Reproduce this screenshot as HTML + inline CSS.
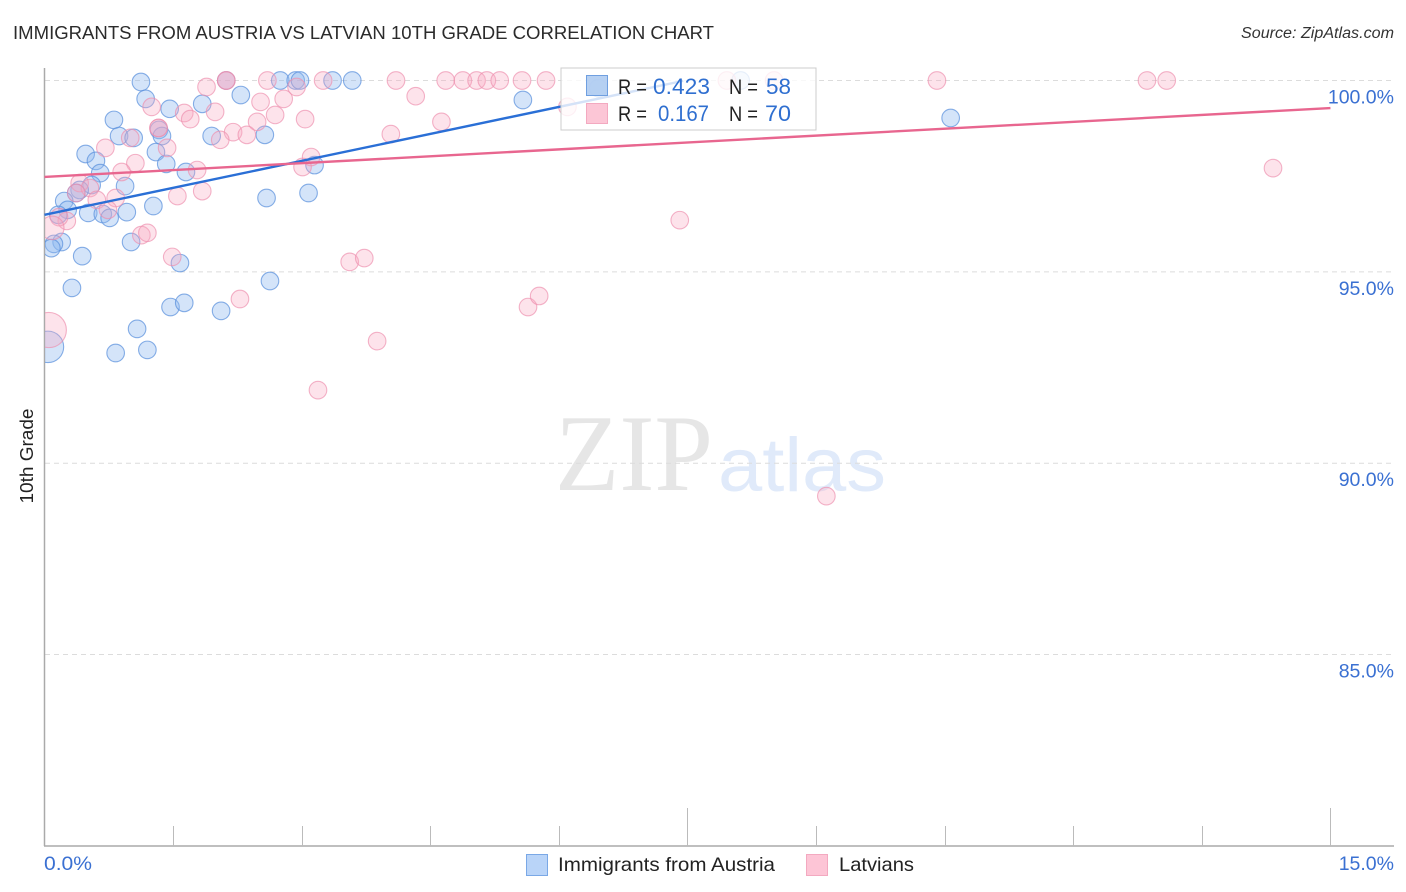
<!DOCTYPE html>
<html lang="en">
<head>
<meta charset="utf-8">
<title>Immigrants from Austria vs Latvian 10th Grade Correlation Chart</title>
<style>
html,body{margin:0;padding:0;background:#fff;width:1406px;height:892px;overflow:hidden}
svg{display:block;font-family:"Liberation Sans",sans-serif}
</style>
</head>
<body>
<svg id="chart" xmlns="http://www.w3.org/2000/svg" width="1406" height="892" viewBox="0 0 1406 892">
  <defs><clipPath id="plot-clip"><rect x="45" y="60" width="1349" height="786"/></clipPath></defs>
  <text x="13" y="39" font-size="18.5" fill="#2b2b2b" textLength="701" lengthAdjust="spacingAndGlyphs">IMMIGRANTS FROM AUSTRIA VS LATVIAN 10TH GRADE CORRELATION CHART</text>
  <text x="1241" y="38" font-size="15.5" font-style="italic" fill="#333" textLength="153" lengthAdjust="spacingAndGlyphs">Source: ZipAtlas.com</text>
  <g>
    <text x="555" y="490" font-family="'Liberation Serif',serif" font-size="109" fill="#e6e6e6" textLength="158" lengthAdjust="spacingAndGlyphs">ZIP</text>
    <text x="718" y="491" font-size="76" fill="#e0eafa" textLength="168" lengthAdjust="spacingAndGlyphs">atlas</text>
  </g>
  <g id="grid"></g>
  <g id="axes"></g>
  <g id="points" clip-path="url(#plot-clip)"></g>
  <g id="trends"></g>
  <g>
    <rect x="561" y="68" width="255" height="62" fill="#fff" fill-opacity="0.8" stroke="#ccc" stroke-width="1"/>
    <rect x="586.5" y="75.5" width="21" height="20" fill="#a9c8f0" fill-opacity=".85" stroke="#6f9fe0"/>
    <rect x="586.5" y="103.5" width="21" height="20" fill="#fcc0d2" fill-opacity=".9" stroke="#f3a9c0"/>
    <text x="618" y="94" font-size="21" fill="#222" textLength="29" lengthAdjust="spacingAndGlyphs">R =</text>
    <text x="653" y="94" font-size="22" fill="#2f6fd0" textLength="57" lengthAdjust="spacingAndGlyphs">0.423</text>
    <text x="729" y="94" font-size="21" fill="#222" textLength="29" lengthAdjust="spacingAndGlyphs">N =</text>
    <text x="766" y="94" font-size="22" fill="#2f6fd0" textLength="25" lengthAdjust="spacingAndGlyphs">58</text>
    <text x="618" y="121" font-size="21" fill="#222" textLength="29" lengthAdjust="spacingAndGlyphs">R =</text>
    <text x="658" y="121" font-size="22" fill="#2f6fd0" textLength="51" lengthAdjust="spacingAndGlyphs">0.167</text>
    <text x="729" y="121" font-size="21" fill="#222" textLength="29" lengthAdjust="spacingAndGlyphs">N =</text>
    <text x="765" y="121" font-size="22" fill="#2f6fd0" textLength="26" lengthAdjust="spacingAndGlyphs">70</text>
  </g>
  <text transform="translate(33,456) rotate(-90)" font-size="18.5" fill="#222" text-anchor="middle" textLength="95" lengthAdjust="spacingAndGlyphs">10th Grade</text>
  <g>
    <rect x="526.5" y="854.5" width="21" height="21" fill="#b9d4f8" stroke="#7aa8e6"/>
    <text x="558" y="871" font-size="19.5" fill="#222" textLength="217" lengthAdjust="spacingAndGlyphs">Immigrants from Austria</text>
    <rect x="806.5" y="854.5" width="21" height="21" fill="#fdc5d6" stroke="#f3a9c0"/>
    <text x="839" y="871" font-size="19.5" fill="#222" textLength="75" lengthAdjust="spacingAndGlyphs">Latvians</text>
  </g>
</svg>
<script>
const yTicks = [100, 95, 90, 85];
const yTickLabels = ["100.0%", "95.0%", "90.0%", "85.0%"];
const xTicks = [0, 1.5, 3, 4.5, 6, 7.5, 9, 10.5, 12, 13.5, 15];
const xEndLabels = ["0.0%", "15.0%"];

const austriaX = [1.125,1.18,1.46,0.81,0.87,1.04,1.335,1.37,1.30,1.42,0.48,0.60,0.65,0.55,0.94,1.65,0.41,0.37,0.23,0.27,0.16,0.51,0.68,0.76,0.96,1.27,1.01,0.20,0.11,0.08,0.44,0.32,1.58,1.47,1.63,2.06,1.08,1.20,0.83,0.04,1.84,2.12,2.29,1.95,2.57,2.59,3.08,3.15,2.63,2.75,2.93,2.98,3.36,3.59,5.58,8.12,10.57,6.46];
const austriaY = [99.96,99.52,99.26,98.97,98.55,98.50,98.71,98.55,98.13,97.82,98.08,97.90,97.58,97.27,97.24,97.61,97.14,97.06,96.85,96.62,96.49,96.54,96.51,96.41,96.56,96.72,95.78,95.78,95.73,95.62,95.41,94.58,95.23,94.08,94.19,93.98,93.51,92.96,92.88,93.04,99.39,100,99.62,98.55,98.58,96.93,97.06,97.79,94.76,100,100,100,100,100,99.49,100,99.02,99.8];
const austriaWeight = [1,1,1,1,1,1,1,1,1,1,1,1,1,1,1,1,1,1,1,1,1,1,1,1,1,1,1,1,1,1,1,1,1,1,1,1,1,1,1,3.2,1,1,1,1,1,1,1,1,1,1,1,1,1,1,1,1,1,1];

const latvianX = [2.12,2.60,3.25,4.10,4.68,4.88,5.04,5.16,5.31,5.57,5.85,7.96,8.51,10.41,12.86,13.09,1.89,2.79,2.94,2.52,4.33,6.10,1.25,1.63,1.70,1.99,2.69,3.04,2.48,2.20,2.36,2.05,4.04,4.63,1.00,0.71,1.43,1.33,1.06,0.90,1.78,3.11,3.01,0.41,0.53,0.61,0.83,1.55,1.84,0.74,0.26,0.17,0.09,1.13,1.20,1.49,3.56,3.73,2.28,5.64,5.77,3.88,3.19,7.41,9.12,14.33,0.05,2.12,1.33,0.37];
const latvianY = [100,100,100,100,100,100,100,100,100,100,100,100,100,100,100,100,99.83,99.52,99.83,99.44,99.59,99.31,99.31,99.15,98.99,99.18,99.10,98.99,98.92,98.65,98.58,98.45,98.60,98.92,98.50,98.24,98.24,98.76,97.84,97.61,97.66,98.00,97.74,97.32,97.19,96.88,96.93,96.98,97.11,96.62,96.33,96.43,96.15,95.96,96.02,95.39,95.26,95.36,94.29,94.08,94.37,93.19,91.91,96.35,89.14,97.71,93.48,100,98.76,97.06];
const latvianWeight = [1,1,1,1,1,1,1,1,1,1,1,1,1,1,1,1,1,1,1,1,1,1,1,1,1,1,1,1,1,1,1,1,1,1,1,1,1,1,1,1,1,1,1,1,1,1,1,1,1,1,1,1,1.8,1,1,1,1,1,1,1,1,1,1,1,1,1,4,1,1,1];

const austriaTrendX = [0, 7.45];
const austriaTrendY = [96.49, 99.99];
const latvianTrendX = [0, 15];
const latvianTrendY = [97.48, 99.28];

const NS = "http://www.w3.org/2000/svg";
const xScale = v => 44.5 + v * 85.73;
const yScale = v => 80.5 + (100 - v) * 38.27;
function make(tag, attrs, parent) {
  const el = document.createElementNS(NS, tag);
  for (const k in attrs) el.setAttribute(k, attrs[k]);
  parent.appendChild(el);
  return el;
}
const grid = document.getElementById("grid");
const axes = document.getElementById("axes");
const pts = document.getElementById("points");
const trends = document.getElementById("trends");

yTicks.forEach((t, i) => {
  const y = yScale(t);
  const line = make("line", {x1: 45, x2: 1394, y1: y, y2: y, stroke: "#dcdcdc", "stroke-width": 1, "stroke-dasharray": "5 4"}, grid);
  
  
  const label = make("text", {x: 1394, y: y + 23, "font-size": 19.5, fill: "#3a70d2", "text-anchor": "end"}, axes);
  label.textContent = yTickLabels[i];
  
  
});

const yAxis = make("line", {x1: 44.5, x2: 44.5, y1: 68, y2: 846, stroke: "#aaa", "stroke-width": 1.5}, axes);


const xAxis = make("line", {x1: 44, x2: 1394, y1: 846, y2: 846, stroke: "#aaa", "stroke-width": 1.5}, axes);



xTicks.forEach((t, i) => {
  if (i === 0) return;
  const x = Math.round(xScale(t)) + 0.5;
  const major = i === 5 || i === 10;
  const tick = make("line", {x1: x, x2: x, y1: major ? 808 : 826, y2: 846, stroke: "#bbb", "stroke-width": 1}, axes);
  
  
});

const xLabelLeft = make("text", {x: 44, y: 870, "font-size": 19.5, fill: "#3a70d2", textLength: 48, lengthAdjust: "spacingAndGlyphs"}, axes);
xLabelLeft.textContent = xEndLabels[0];


const xLabelRight = make("text", {x: 1394, y: 870, "font-size": 19.5, fill: "#3a70d2", "text-anchor": "end"}, axes);
xLabelRight.textContent = xEndLabels[1];



austriaX.forEach((v, i) => {
  const c = make("circle", {cx: xScale(v), cy: yScale(austriaY[i]), r: 8.8 * Math.sqrt(austriaWeight[i]), fill: "#8db8ee", "fill-opacity": 0.38, stroke: "#5a90dc", "stroke-opacity": 0.72, "stroke-width": 1.1}, pts);
  
  
});
latvianX.forEach((v, i) => {
  const c = make("circle", {cx: xScale(v), cy: yScale(latvianY[i]), r: 8.8 * Math.sqrt(latvianWeight[i]), fill: "#f9a8c2", "fill-opacity": 0.32, stroke: "#ee8fae", "stroke-opacity": 0.68, "stroke-width": 1.1}, pts);
  
  
});

const blueTrend = make("line", {x1: xScale(austriaTrendX[0]), y1: yScale(austriaTrendY[0]), x2: xScale(austriaTrendX[1]), y2: yScale(austriaTrendY[1]), stroke: "#2a6fd6", "stroke-width": 2.4}, trends);


const pinkTrend = make("line", {x1: xScale(latvianTrendX[0]), y1: yScale(latvianTrendY[0]), x2: xScale(latvianTrendX[1]), y2: yScale(latvianTrendY[1]), stroke: "#e8668f", "stroke-width": 2.4}, trends);


</script>
</body>
</html>
